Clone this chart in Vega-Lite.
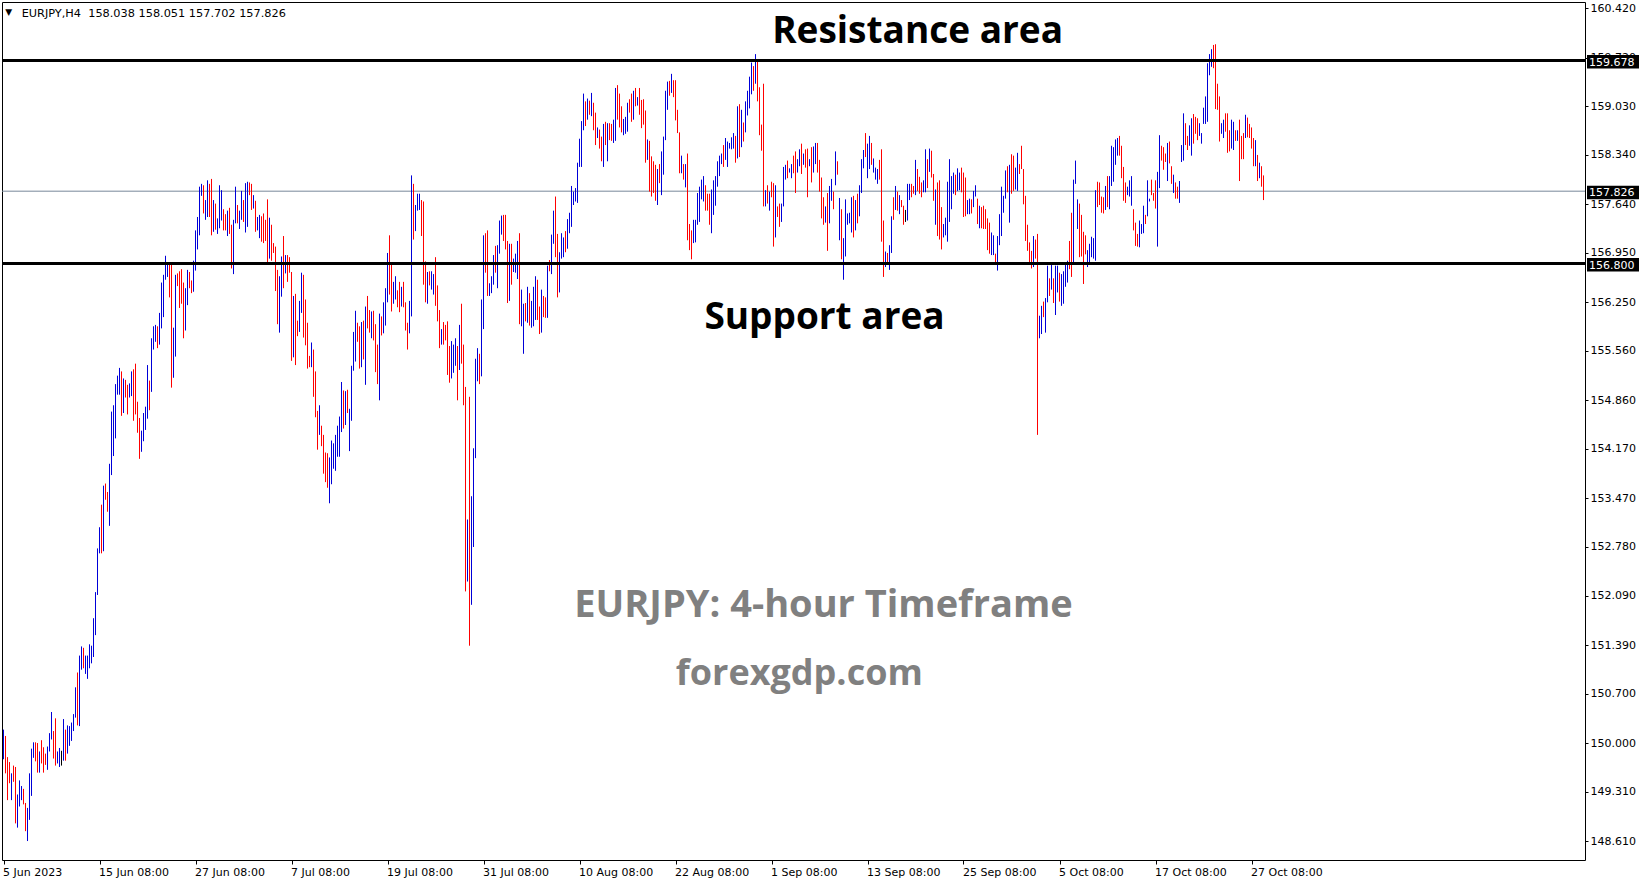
{"$schema":"https://vega.github.io/schema/vega-lite/v6.json","width":1583,"height":858,"padding":{"left":2,"top":2,"right":64,"bottom":24},"autosize":{"type":"none"},"background":"white","config":{"view":{"stroke":"black","strokeWidth":1},"font":"DejaVu Sans"},
"resolve":{"axis":{"x":"independent","y":"independent"}},
"datasets":{"bars":[
{"o":149.82,"h":150.19,"l":149.77,"c":150.15},{"o":150.06,"h":150.10,"l":149.57,"c":149.62},{"o":149.76,"h":149.80,"l":149.19,"c":149.24},{"o":149.69,"h":149.73,"l":149.43,"c":149.48},{"o":149.24,"h":149.57,"l":149.19,"c":149.53},{"o":149.64,"h":149.68,"l":149.45,"c":149.50},{"o":149.62,"h":149.66,"l":148.86,"c":148.91},{"o":148.85,"h":149.27,"l":148.80,"c":149.23},{"o":149.15,"h":149.47,"l":149.10,"c":149.43},{"o":149.24,"h":149.39,"l":149.19,"c":149.35},
{"o":149.31,"h":149.35,"l":149.13,"c":149.18},{"o":149.11,"h":149.15,"l":148.75,"c":148.80},{"o":148.66,"h":149.08,"l":148.61,"c":149.04},{"o":148.96,"h":149.57,"l":148.91,"c":149.53},{"o":149.30,"h":149.92,"l":149.25,"c":149.88},{"o":149.84,"h":150.01,"l":149.79,"c":149.97},{"o":149.97,"h":150.01,"l":149.74,"c":149.79},{"o":149.96,"h":150.00,"l":149.58,"c":149.63},{"o":149.63,"h":149.88,"l":149.58,"c":149.84},{"o":150.00,"h":150.04,"l":149.71,"c":149.76},
{"o":149.90,"h":149.94,"l":149.58,"c":149.63},{"o":149.81,"h":149.85,"l":149.69,"c":149.74},{"o":149.67,"h":149.95,"l":149.62,"c":149.91},{"o":149.93,"h":150.14,"l":149.88,"c":150.10},{"o":150.10,"h":150.44,"l":150.05,"c":150.40},{"o":150.13,"h":150.17,"l":149.78,"c":149.83},{"o":150.31,"h":150.35,"l":149.68,"c":149.73},{"o":149.76,"h":149.88,"l":149.71,"c":149.84},{"o":149.71,"h":149.93,"l":149.66,"c":149.89},{"o":149.78,"h":149.89,"l":149.68,"c":149.78},
{"o":149.80,"h":150.34,"l":149.75,"c":150.30},{"o":150.15,"h":150.19,"l":149.75,"c":149.80},{"o":149.90,"h":150.25,"l":149.85,"c":150.21},{"o":150.01,"h":150.24,"l":149.96,"c":150.20},{"o":150.08,"h":150.29,"l":150.03,"c":150.25},{"o":150.22,"h":150.41,"l":150.17,"c":150.37},{"o":150.41,"h":150.79,"l":150.36,"c":150.75},{"o":150.96,"h":151.00,"l":150.25,"c":150.30},{"o":150.29,"h":151.24,"l":150.24,"c":151.20},{"o":151.09,"h":151.37,"l":151.04,"c":151.33},
{"o":151.31,"h":151.35,"l":151.06,"c":151.11},{"o":151.03,"h":151.24,"l":150.98,"c":151.20},{"o":150.96,"h":151.24,"l":150.91,"c":151.20},{"o":151.11,"h":151.40,"l":151.06,"c":151.36},{"o":151.18,"h":151.38,"l":151.13,"c":151.34},{"o":151.27,"h":151.77,"l":151.22,"c":151.73},{"o":151.58,"h":152.14,"l":151.53,"c":152.10},{"o":152.15,"h":152.76,"l":152.10,"c":152.72},{"o":152.74,"h":153.06,"l":152.69,"c":153.02},{"o":153.34,"h":153.38,"l":152.69,"c":152.74},
{"o":152.77,"h":153.65,"l":152.72,"c":153.61},{"o":153.64,"h":153.68,"l":153.45,"c":153.50},{"o":153.52,"h":153.56,"l":153.28,"c":153.33},{"o":153.13,"h":153.96,"l":153.08,"c":153.92},{"o":153.85,"h":154.70,"l":153.80,"c":154.66},{"o":154.12,"h":154.79,"l":154.07,"c":154.75},{"o":154.37,"h":155.09,"l":154.32,"c":155.05},{"o":154.99,"h":155.21,"l":154.94,"c":155.17},{"o":154.99,"h":155.32,"l":154.94,"c":155.28},{"o":155.23,"h":155.27,"l":154.64,"c":154.69},
{"o":154.73,"h":155.17,"l":154.68,"c":155.13},{"o":155.11,"h":155.15,"l":154.90,"c":154.95},{"o":155.04,"h":155.08,"l":154.66,"c":154.71},{"o":154.95,"h":155.10,"l":154.90,"c":155.06},{"o":154.97,"h":155.27,"l":154.92,"c":155.23},{"o":155.26,"h":155.30,"l":154.57,"c":154.62},{"o":155.34,"h":155.38,"l":154.66,"c":154.71},{"o":154.80,"h":154.84,"l":154.40,"c":154.45},{"o":154.57,"h":154.61,"l":154.03,"c":154.08},{"o":154.18,"h":154.43,"l":154.13,"c":154.39},
{"o":154.33,"h":154.68,"l":154.28,"c":154.64},{"o":154.49,"h":154.77,"l":154.44,"c":154.73},{"o":154.65,"h":155.36,"l":154.60,"c":155.32},{"o":155.10,"h":155.14,"l":154.72,"c":154.77},{"o":155.03,"h":155.74,"l":154.98,"c":155.70},{"o":155.63,"h":155.91,"l":155.58,"c":155.87},{"o":155.74,"h":155.93,"l":155.69,"c":155.89},{"o":155.87,"h":155.91,"l":155.60,"c":155.65},{"o":155.70,"h":156.10,"l":155.65,"c":156.06},{"o":155.93,"h":156.53,"l":155.88,"c":156.49},
{"o":156.09,"h":156.64,"l":156.04,"c":156.60},{"o":156.62,"h":156.91,"l":156.57,"c":156.87},{"o":156.66,"h":156.81,"l":156.61,"c":156.77},{"o":156.74,"h":156.78,"l":156.32,"c":156.37},{"o":156.74,"h":156.78,"l":155.04,"c":155.09},{"o":155.23,"h":155.89,"l":155.18,"c":155.85},{"o":155.53,"h":156.64,"l":155.48,"c":156.60},{"o":156.62,"h":156.66,"l":156.48,"c":156.53},{"o":156.65,"h":156.69,"l":156.17,"c":156.22},{"o":156.68,"h":156.72,"l":156.23,"c":156.28},
{"o":156.49,"h":156.53,"l":155.74,"c":155.79},{"o":155.90,"h":156.45,"l":155.85,"c":156.41},{"o":156.26,"h":156.71,"l":156.21,"c":156.67},{"o":156.64,"h":156.68,"l":156.45,"c":156.50},{"o":156.52,"h":156.56,"l":156.38,"c":156.43},{"o":156.45,"h":156.84,"l":156.40,"c":156.80},{"o":156.75,"h":157.27,"l":156.70,"c":157.23},{"o":157.05,"h":157.46,"l":157.00,"c":157.42},{"o":157.25,"h":157.89,"l":157.20,"c":157.85},{"o":157.81,"h":157.93,"l":157.76,"c":157.89},
{"o":157.87,"h":157.91,"l":157.51,"c":157.56},{"o":157.47,"h":157.70,"l":157.42,"c":157.66},{"o":157.51,"h":157.98,"l":157.46,"c":157.94},{"o":157.89,"h":157.93,"l":157.46,"c":157.51},{"o":157.96,"h":158.00,"l":157.20,"c":157.25},{"o":157.30,"h":157.70,"l":157.25,"c":157.66},{"o":157.61,"h":157.65,"l":157.28,"c":157.33},{"o":157.27,"h":157.44,"l":157.22,"c":157.40},{"o":157.35,"h":157.91,"l":157.30,"c":157.87},{"o":157.46,"h":157.84,"l":157.41,"c":157.80},
{"o":157.53,"h":157.57,"l":157.27,"c":157.32},{"o":157.46,"h":157.50,"l":157.27,"c":157.32},{"o":157.24,"h":157.55,"l":157.19,"c":157.51},{"o":157.55,"h":157.59,"l":157.22,"c":157.27},{"o":157.31,"h":157.35,"l":156.73,"c":156.78},{"o":156.70,"h":157.42,"l":156.65,"c":157.38},{"o":157.42,"h":157.89,"l":157.37,"c":157.85},{"o":157.59,"h":157.63,"l":157.37,"c":157.42},{"o":157.34,"h":157.55,"l":157.29,"c":157.51},{"o":157.47,"h":157.83,"l":157.42,"c":157.79},
{"o":157.66,"h":157.70,"l":157.39,"c":157.44},{"o":157.29,"h":157.94,"l":157.24,"c":157.90},{"o":157.37,"h":157.96,"l":157.32,"c":157.92},{"o":157.91,"h":157.95,"l":157.77,"c":157.82},{"o":157.89,"h":157.93,"l":157.56,"c":157.61},{"o":157.63,"h":157.77,"l":157.58,"c":157.73},{"o":157.65,"h":157.69,"l":157.25,"c":157.30},{"o":157.32,"h":157.46,"l":157.27,"c":157.42},{"o":157.21,"h":157.49,"l":157.16,"c":157.45},{"o":157.43,"h":157.47,"l":157.11,"c":157.16},
{"o":157.47,"h":157.51,"l":157.09,"c":157.14},{"o":157.38,"h":157.42,"l":157.12,"c":157.17},{"o":157.67,"h":157.71,"l":156.80,"c":156.85},{"o":156.92,"h":157.45,"l":156.87,"c":157.41},{"o":157.31,"h":157.35,"l":156.84,"c":156.89},{"o":157.07,"h":157.09,"l":156.95,"c":156.97},{"o":157.00,"h":157.04,"l":156.41,"c":156.46},{"o":156.67,"h":156.71,"l":155.94,"c":155.99},{"o":155.87,"h":156.62,"l":155.82,"c":156.58},{"o":156.38,"h":156.90,"l":156.33,"c":156.86},
{"o":157.15,"h":157.19,"l":156.45,"c":156.50},{"o":156.71,"h":156.92,"l":156.66,"c":156.88},{"o":156.88,"h":156.92,"l":156.54,"c":156.59},{"o":156.85,"h":156.89,"l":156.67,"c":156.72},{"o":156.64,"h":156.68,"l":155.42,"c":155.47},{"o":155.52,"h":156.34,"l":155.47,"c":156.30},{"o":156.33,"h":156.37,"l":155.36,"c":155.41},{"o":155.95,"h":155.99,"l":155.77,"c":155.82},{"o":155.88,"h":156.27,"l":155.83,"c":156.23},{"o":156.15,"h":156.67,"l":156.10,"c":156.63},
{"o":156.60,"h":156.64,"l":155.75,"c":155.80},{"o":156.25,"h":156.29,"l":155.64,"c":155.69},{"o":155.92,"h":155.96,"l":155.31,"c":155.36},{"o":155.45,"h":155.49,"l":155.33,"c":155.38},{"o":155.38,"h":155.68,"l":155.33,"c":155.64},{"o":155.54,"h":155.58,"l":154.91,"c":154.96},{"o":155.23,"h":155.27,"l":154.62,"c":154.67},{"o":154.67,"h":154.71,"l":154.16,"c":154.21},{"o":154.42,"h":154.79,"l":154.37,"c":154.75},{"o":154.46,"h":154.50,"l":154.21,"c":154.26},
{"o":154.33,"h":154.37,"l":153.82,"c":153.87},{"o":154.08,"h":154.12,"l":153.70,"c":153.75},{"o":154.07,"h":154.11,"l":153.62,"c":153.67},{"o":153.45,"h":154.05,"l":153.40,"c":154.01},{"o":153.72,"h":154.29,"l":153.67,"c":154.25},{"o":153.94,"h":154.25,"l":153.89,"c":154.21},{"o":153.91,"h":154.37,"l":153.86,"c":154.33},{"o":154.11,"h":154.50,"l":154.06,"c":154.46},{"o":154.11,"h":154.63,"l":154.06,"c":154.59},{"o":154.46,"h":155.12,"l":154.41,"c":155.08},
{"o":154.96,"h":155.00,"l":154.46,"c":154.51},{"o":154.56,"h":154.99,"l":154.51,"c":154.95},{"o":154.97,"h":155.01,"l":154.68,"c":154.73},{"o":154.19,"h":154.74,"l":154.14,"c":154.70},{"o":154.62,"h":155.35,"l":154.57,"c":155.31},{"o":155.33,"h":155.83,"l":155.28,"c":155.79},{"o":155.46,"h":156.13,"l":155.41,"c":156.09},{"o":155.92,"h":155.96,"l":155.69,"c":155.74},{"o":155.87,"h":155.91,"l":155.31,"c":155.36},{"o":155.38,"h":155.97,"l":155.33,"c":155.93},
{"o":155.95,"h":155.99,"l":155.44,"c":155.49},{"o":155.13,"h":156.19,"l":155.08,"c":156.15},{"o":156.30,"h":156.34,"l":155.88,"c":155.93},{"o":156.10,"h":156.14,"l":155.82,"c":155.87},{"o":155.79,"h":156.12,"l":155.74,"c":156.08},{"o":156.09,"h":156.13,"l":155.71,"c":155.76},{"o":155.90,"h":155.94,"l":155.26,"c":155.31},{"o":155.61,"h":155.65,"l":155.09,"c":155.14},{"o":154.91,"h":156.09,"l":154.86,"c":156.05},{"o":156.01,"h":156.05,"l":155.78,"c":155.83},
{"o":155.86,"h":156.25,"l":155.81,"c":156.21},{"o":155.97,"h":156.45,"l":155.92,"c":156.41},{"o":156.30,"h":156.95,"l":156.25,"c":156.91},{"o":157.16,"h":157.20,"l":156.36,"c":156.41},{"o":156.77,"h":156.81,"l":156.12,"c":156.17},{"o":156.28,"h":156.54,"l":156.23,"c":156.50},{"o":156.34,"h":156.62,"l":156.29,"c":156.58},{"o":156.38,"h":156.42,"l":156.18,"c":156.23},{"o":156.50,"h":156.54,"l":156.11,"c":156.16},{"o":156.24,"h":156.47,"l":156.19,"c":156.43},
{"o":156.50,"h":156.54,"l":156.18,"c":156.23},{"o":156.21,"h":156.25,"l":155.85,"c":155.90},{"o":155.92,"h":155.96,"l":155.58,"c":155.63},{"o":155.86,"h":156.27,"l":155.81,"c":156.23},{"o":156.10,"h":158.05,"l":156.05,"c":158.01},{"o":157.89,"h":157.93,"l":157.14,"c":157.19},{"o":157.31,"h":157.63,"l":157.26,"c":157.59},{"o":157.60,"h":157.79,"l":157.55,"c":157.75},{"o":157.61,"h":157.79,"l":157.56,"c":157.75},{"o":157.66,"h":157.70,"l":157.19,"c":157.24},
{"o":157.64,"h":157.68,"l":156.50,"c":156.55},{"o":156.79,"h":156.83,"l":156.25,"c":156.30},{"o":156.28,"h":156.68,"l":156.23,"c":156.64},{"o":156.65,"h":156.69,"l":156.49,"c":156.54},{"o":156.48,"h":156.69,"l":156.43,"c":156.65},{"o":156.41,"h":156.65,"l":156.36,"c":156.61},{"o":156.85,"h":156.89,"l":156.20,"c":156.25},{"o":156.45,"h":156.49,"l":155.98,"c":156.03},{"o":156.10,"h":156.14,"l":155.60,"c":155.65},{"o":155.70,"h":155.87,"l":155.65,"c":155.83},
{"o":155.93,"h":155.97,"l":155.65,"c":155.70},{"o":155.89,"h":155.93,"l":155.71,"c":155.76},{"o":155.94,"h":155.98,"l":155.22,"c":155.27},{"o":155.59,"h":155.63,"l":155.11,"c":155.16},{"o":155.22,"h":155.70,"l":155.17,"c":155.66},{"o":155.30,"h":155.65,"l":155.25,"c":155.61},{"o":155.40,"h":155.74,"l":155.35,"c":155.70},{"o":155.59,"h":155.63,"l":154.86,"c":154.91},{"o":155.34,"h":155.93,"l":155.29,"c":155.89},{"o":156.19,"h":156.23,"l":155.38,"c":155.43},
{"o":155.61,"h":155.65,"l":154.79,"c":154.84},{"o":155.01,"h":155.05,"l":152.15,"c":152.20},{"o":152.34,"h":153.17,"l":152.29,"c":153.13},{"o":154.87,"h":154.91,"l":151.38,"c":151.43},{"o":152.01,"h":153.50,"l":151.96,"c":153.46},{"o":152.83,"h":154.18,"l":152.78,"c":154.14},{"o":154.09,"h":155.45,"l":154.04,"c":155.41},{"o":155.18,"h":155.60,"l":155.13,"c":155.56},{"o":155.48,"h":155.52,"l":155.09,"c":155.14},{"o":155.25,"h":156.29,"l":155.20,"c":156.25},
{"o":155.92,"h":157.20,"l":155.87,"c":157.16},{"o":157.19,"h":157.23,"l":156.67,"c":156.72},{"o":157.23,"h":157.27,"l":156.34,"c":156.39},{"o":156.39,"h":156.52,"l":156.34,"c":156.48},{"o":156.43,"h":156.62,"l":156.38,"c":156.58},{"o":156.55,"h":156.92,"l":156.50,"c":156.88},{"o":157.01,"h":157.05,"l":156.67,"c":156.72},{"o":156.50,"h":157.06,"l":156.45,"c":157.02},{"o":156.99,"h":157.41,"l":156.94,"c":157.37},{"o":157.26,"h":157.48,"l":157.21,"c":157.44},
{"o":157.45,"h":157.49,"l":157.12,"c":157.17},{"o":157.45,"h":157.49,"l":157.00,"c":157.05},{"o":157.08,"h":157.12,"l":156.24,"c":156.29},{"o":156.32,"h":157.08,"l":156.27,"c":157.04},{"o":157.04,"h":157.08,"l":156.50,"c":156.55},{"o":156.73,"h":156.87,"l":156.68,"c":156.83},{"o":156.72,"h":156.94,"l":156.67,"c":156.90},{"o":156.63,"h":157.12,"l":156.58,"c":157.08},{"o":157.19,"h":157.23,"l":155.94,"c":155.99},{"o":155.96,"h":156.43,"l":155.91,"c":156.39},
{"o":155.57,"h":156.23,"l":155.52,"c":156.19},{"o":156.20,"h":156.24,"l":155.98,"c":156.03},{"o":156.01,"h":156.47,"l":155.96,"c":156.43},{"o":156.34,"h":156.38,"l":155.92,"c":155.97},{"o":155.94,"h":156.27,"l":155.89,"c":156.23},{"o":155.96,"h":156.47,"l":155.91,"c":156.43},{"o":156.05,"h":156.62,"l":156.00,"c":156.58},{"o":156.53,"h":156.57,"l":156.00,"c":156.05},{"o":156.15,"h":156.19,"l":155.80,"c":155.85},{"o":155.87,"h":156.43,"l":155.82,"c":156.39},
{"o":156.30,"h":156.34,"l":156.04,"c":156.09},{"o":156.28,"h":156.32,"l":156.03,"c":156.08},{"o":156.08,"h":156.77,"l":156.03,"c":156.73},{"o":156.81,"h":156.85,"l":156.69,"c":156.74},{"o":156.70,"h":157.21,"l":156.65,"c":157.17},{"o":157.13,"h":157.55,"l":157.08,"c":157.51},{"o":157.71,"h":157.75,"l":156.89,"c":156.94},{"o":157.18,"h":157.22,"l":156.32,"c":156.37},{"o":156.44,"h":156.96,"l":156.39,"c":156.92},{"o":156.92,"h":157.23,"l":156.87,"c":157.19},
{"o":156.94,"h":157.17,"l":156.89,"c":157.13},{"o":157.22,"h":157.26,"l":156.96,"c":157.01},{"o":157.06,"h":157.43,"l":157.01,"c":157.39},{"o":157.28,"h":157.52,"l":157.23,"c":157.48},{"o":157.37,"h":157.90,"l":157.32,"c":157.86},{"o":157.68,"h":157.82,"l":157.63,"c":157.78},{"o":157.73,"h":157.87,"l":157.68,"c":157.83},{"o":157.71,"h":158.23,"l":157.66,"c":158.19},{"o":158.22,"h":158.57,"l":158.17,"c":158.53},{"o":158.22,"h":158.82,"l":158.17,"c":158.78},
{"o":158.74,"h":159.21,"l":158.69,"c":159.17},{"o":159.06,"h":159.10,"l":158.75,"c":158.80},{"o":158.89,"h":159.14,"l":158.84,"c":159.10},{"o":159.07,"h":159.11,"l":158.91,"c":158.96},{"o":158.94,"h":159.22,"l":158.89,"c":159.18},{"o":159.04,"h":159.08,"l":158.69,"c":158.74},{"o":158.90,"h":158.94,"l":158.48,"c":158.53},{"o":158.60,"h":158.73,"l":158.58,"c":158.71},{"o":158.66,"h":158.70,"l":158.43,"c":158.48},{"o":158.56,"h":158.60,"l":158.25,"c":158.30},
{"o":158.22,"h":158.78,"l":158.17,"c":158.74},{"o":158.77,"h":158.81,"l":158.48,"c":158.53},{"o":158.30,"h":158.79,"l":158.25,"c":158.75},{"o":158.75,"h":158.79,"l":158.55,"c":158.60},{"o":158.74,"h":158.78,"l":158.54,"c":158.59},{"o":158.56,"h":158.84,"l":158.51,"c":158.80},{"o":158.59,"h":159.29,"l":158.54,"c":159.25},{"o":159.29,"h":159.33,"l":158.84,"c":158.89},{"o":159.17,"h":159.21,"l":158.73,"c":158.78},{"o":158.99,"h":159.03,"l":158.66,"c":158.71},
{"o":158.67,"h":158.85,"l":158.62,"c":158.81},{"o":158.69,"h":158.88,"l":158.64,"c":158.84},{"o":158.72,"h":159.08,"l":158.67,"c":159.04},{"o":159.09,"h":159.13,"l":158.94,"c":158.99},{"o":159.17,"h":159.21,"l":158.81,"c":158.86},{"o":158.89,"h":159.25,"l":158.84,"c":159.21},{"o":159.25,"h":159.29,"l":159.03,"c":159.08},{"o":159.06,"h":159.16,"l":159.04,"c":159.14},{"o":159.25,"h":159.29,"l":158.91,"c":158.96},{"o":159.08,"h":159.12,"l":158.72,"c":158.77},
{"o":159.09,"h":159.13,"l":158.77,"c":158.82},{"o":158.93,"h":158.97,"l":158.23,"c":158.28},{"o":158.32,"h":158.56,"l":158.27,"c":158.52},{"o":158.50,"h":158.54,"l":157.82,"c":157.87},{"o":158.28,"h":158.32,"l":157.75,"c":157.80},{"o":158.21,"h":158.25,"l":157.80,"c":157.85},{"o":158.16,"h":158.20,"l":157.69,"c":157.74},{"o":157.68,"h":158.14,"l":157.63,"c":158.10},{"o":158.17,"h":158.21,"l":157.94,"c":157.99},{"o":157.82,"h":158.39,"l":157.77,"c":158.35},
{"o":158.11,"h":158.60,"l":158.06,"c":158.56},{"o":158.60,"h":159.25,"l":158.55,"c":159.21},{"o":159.03,"h":159.38,"l":158.98,"c":159.34},{"o":159.35,"h":159.39,"l":159.18,"c":159.23},{"o":159.27,"h":159.49,"l":159.22,"c":159.45},{"o":159.36,"h":159.40,"l":159.16,"c":159.21},{"o":159.36,"h":159.40,"l":158.83,"c":158.88},{"o":158.94,"h":158.98,"l":158.65,"c":158.70},{"o":158.62,"h":158.66,"l":158.08,"c":158.13},{"o":158.13,"h":158.33,"l":158.08,"c":158.29},
{"o":158.17,"h":158.21,"l":157.99,"c":158.04},{"o":157.93,"h":158.21,"l":157.88,"c":158.17},{"o":158.32,"h":158.36,"l":157.13,"c":157.18},{"o":157.32,"h":157.36,"l":156.99,"c":157.04},{"o":157.23,"h":157.27,"l":156.86,"c":156.91},{"o":157.14,"h":157.42,"l":157.09,"c":157.38},{"o":157.15,"h":157.42,"l":157.10,"c":157.38},{"o":157.40,"h":157.80,"l":157.35,"c":157.76},{"o":157.44,"h":157.89,"l":157.39,"c":157.85},{"o":157.76,"h":157.99,"l":157.71,"c":157.95},
{"o":157.73,"h":158.04,"l":157.68,"c":158.00},{"o":157.87,"h":157.91,"l":157.55,"c":157.60},{"o":157.75,"h":157.79,"l":157.55,"c":157.60},{"o":157.75,"h":157.79,"l":157.35,"c":157.40},{"o":157.28,"h":157.85,"l":157.23,"c":157.81},{"o":157.54,"h":157.98,"l":157.49,"c":157.94},{"o":157.67,"h":158.04,"l":157.62,"c":158.00},{"o":157.94,"h":158.25,"l":157.89,"c":158.21},{"o":158.09,"h":158.33,"l":158.04,"c":158.29},{"o":158.23,"h":158.36,"l":158.21,"c":158.34},
{"o":158.44,"h":158.48,"l":158.17,"c":158.22},{"o":158.32,"h":158.58,"l":158.27,"c":158.54},{"o":158.22,"h":158.53,"l":158.17,"c":158.49},{"o":158.45,"h":158.51,"l":158.43,"c":158.49},{"o":158.47,"h":158.59,"l":158.42,"c":158.55},{"o":158.48,"h":158.65,"l":158.43,"c":158.61},{"o":158.57,"h":158.61,"l":158.23,"c":158.28},{"o":158.34,"h":159.03,"l":158.29,"c":158.99},{"o":159.02,"h":159.06,"l":158.31,"c":158.36},{"o":158.50,"h":158.98,"l":158.45,"c":158.94},
{"o":158.76,"h":158.80,"l":158.53,"c":158.58},{"o":158.71,"h":159.10,"l":158.66,"c":159.06},{"o":158.95,"h":159.25,"l":158.90,"c":159.21},{"o":159.05,"h":159.45,"l":159.00,"c":159.41},{"o":159.25,"h":159.65,"l":159.20,"c":159.61},{"o":159.56,"h":159.60,"l":159.25,"c":159.30},{"o":159.40,"h":159.77,"l":159.35,"c":159.73},{"o":159.66,"h":159.70,"l":159.10,"c":159.15},{"o":159.26,"h":159.30,"l":158.62,"c":158.67},{"o":158.73,"h":158.77,"l":158.40,"c":158.45},
{"o":159.31,"h":159.35,"l":157.61,"c":157.66},{"o":157.66,"h":157.84,"l":157.61,"c":157.80},{"o":157.87,"h":157.91,"l":157.65,"c":157.70},{"o":157.60,"h":157.82,"l":157.55,"c":157.78},{"o":157.92,"h":157.96,"l":157.74,"c":157.79},{"o":157.90,"h":157.94,"l":157.04,"c":157.09},{"o":157.22,"h":157.91,"l":157.17,"c":157.87},{"o":157.59,"h":157.61,"l":157.46,"c":157.48},{"o":157.61,"h":157.65,"l":157.32,"c":157.37},{"o":157.44,"h":157.65,"l":157.39,"c":157.61},
{"o":157.66,"h":158.17,"l":157.61,"c":158.13},{"o":158.04,"h":158.20,"l":157.99,"c":158.16},{"o":158.22,"h":158.26,"l":158.01,"c":158.06},{"o":158.10,"h":158.15,"l":158.09,"c":158.14},{"o":158.06,"h":158.21,"l":158.01,"c":158.17},{"o":158.29,"h":158.33,"l":158.08,"c":158.13},{"o":158.35,"h":158.39,"l":157.80,"c":157.85},{"o":158.14,"h":158.28,"l":158.09,"c":158.24},{"o":158.23,"h":158.42,"l":158.18,"c":158.38},{"o":158.46,"h":158.50,"l":158.07,"c":158.12},
{"o":158.25,"h":158.36,"l":158.20,"c":158.32},{"o":158.38,"h":158.42,"l":158.16,"c":158.21},{"o":158.39,"h":158.43,"l":157.74,"c":157.79},{"o":158.20,"h":158.28,"l":158.18,"c":158.26},{"o":158.41,"h":158.45,"l":157.95,"c":158.00},{"o":158.14,"h":158.46,"l":158.09,"c":158.42},{"o":158.26,"h":158.51,"l":158.21,"c":158.47},{"o":158.47,"h":158.51,"l":158.09,"c":158.14},{"o":158.23,"h":158.27,"l":157.82,"c":157.87},{"o":157.98,"h":158.02,"l":157.44,"c":157.49},
{"o":157.70,"h":157.74,"l":157.35,"c":157.40},{"o":157.43,"h":157.61,"l":157.38,"c":157.57},{"o":157.76,"h":157.80,"l":156.98,"c":157.03},{"o":157.42,"h":157.90,"l":157.37,"c":157.86},{"o":157.74,"h":158.00,"l":157.69,"c":157.96},{"o":157.78,"h":157.82,"l":157.57,"c":157.62},{"o":157.96,"h":158.39,"l":157.91,"c":158.35},{"o":158.21,"h":158.25,"l":158.06,"c":158.11},{"o":157.18,"h":157.73,"l":157.13,"c":157.69},{"o":157.53,"h":157.57,"l":156.86,"c":156.91},
{"o":156.62,"h":157.16,"l":156.57,"c":157.12},{"o":156.95,"h":157.71,"l":156.90,"c":157.67},{"o":157.40,"h":157.51,"l":157.35,"c":157.47},{"o":157.42,"h":157.52,"l":157.37,"c":157.48},{"o":157.29,"h":157.74,"l":157.24,"c":157.70},{"o":157.72,"h":157.76,"l":157.17,"c":157.22},{"o":157.32,"h":157.70,"l":157.27,"c":157.66},{"o":157.75,"h":157.79,"l":157.37,"c":157.42},{"o":157.52,"h":157.91,"l":157.47,"c":157.87},{"o":157.85,"h":158.28,"l":157.80,"c":158.24},
{"o":158.20,"h":158.41,"l":158.15,"c":158.37},{"o":158.61,"h":158.65,"l":158.31,"c":158.36},{"o":158.06,"h":158.50,"l":158.01,"c":158.46},{"o":158.19,"h":158.61,"l":158.14,"c":158.57},{"o":158.47,"h":158.51,"l":158.20,"c":158.25},{"o":158.14,"h":158.29,"l":158.09,"c":158.25},{"o":158.04,"h":158.16,"l":157.99,"c":158.12},{"o":157.98,"h":158.14,"l":157.93,"c":158.10},{"o":158.23,"h":158.27,"l":157.99,"c":158.04},{"o":158.38,"h":158.42,"l":157.11,"c":157.16},
{"o":157.37,"h":157.41,"l":156.61,"c":156.66},{"o":156.80,"h":156.97,"l":156.75,"c":156.93},{"o":156.91,"h":156.95,"l":156.79,"c":156.84},{"o":156.76,"h":157.06,"l":156.71,"c":157.02},{"o":157.00,"h":157.47,"l":156.95,"c":157.43},{"o":157.70,"h":157.74,"l":157.42,"c":157.47},{"o":157.61,"h":157.90,"l":157.56,"c":157.86},{"o":157.78,"h":157.82,"l":157.55,"c":157.60},{"o":157.55,"h":157.77,"l":157.50,"c":157.73},{"o":157.68,"h":157.70,"l":157.60,"c":157.62},
{"o":157.58,"h":157.62,"l":157.35,"c":157.40},{"o":157.47,"h":157.56,"l":157.39,"c":157.47},{"o":157.46,"h":157.93,"l":157.41,"c":157.89},{"o":157.75,"h":157.93,"l":157.70,"c":157.89},{"o":157.89,"h":157.93,"l":157.74,"c":157.79},{"o":157.88,"h":157.90,"l":157.79,"c":157.81},{"o":157.82,"h":158.27,"l":157.77,"c":158.23},{"o":158.10,"h":158.14,"l":157.83,"c":157.88},{"o":157.99,"h":158.03,"l":157.79,"c":157.84},{"o":157.91,"h":157.95,"l":157.74,"c":157.79},
{"o":157.86,"h":157.98,"l":157.81,"c":157.94},{"o":157.86,"h":158.42,"l":157.81,"c":158.38},{"o":158.24,"h":158.28,"l":157.87,"c":157.92},{"o":158.15,"h":158.43,"l":158.10,"c":158.39},{"o":158.36,"h":158.40,"l":158.02,"c":158.07},{"o":158.03,"h":158.07,"l":157.69,"c":157.74},{"o":157.40,"h":157.85,"l":157.35,"c":157.81},{"o":157.91,"h":157.95,"l":157.19,"c":157.24},{"o":157.94,"h":157.98,"l":157.14,"c":157.19},{"o":157.56,"h":157.60,"l":157.00,"c":157.05},
{"o":157.22,"h":157.36,"l":157.17,"c":157.32},{"o":157.25,"h":157.45,"l":157.20,"c":157.41},{"o":157.16,"h":157.96,"l":157.11,"c":157.92},{"o":157.44,"h":158.28,"l":157.39,"c":158.24},{"o":157.62,"h":158.04,"l":157.57,"c":158.00},{"o":157.84,"h":158.09,"l":157.79,"c":158.05},{"o":158.02,"h":158.06,"l":157.77,"c":157.82},{"o":157.88,"h":158.15,"l":157.83,"c":158.11},{"o":157.89,"h":158.09,"l":157.84,"c":158.05},{"o":158.12,"h":158.16,"l":157.81,"c":157.86},
{"o":158.05,"h":158.09,"l":157.46,"c":157.51},{"o":157.98,"h":158.02,"l":157.47,"c":157.52},{"o":157.55,"h":157.70,"l":157.50,"c":157.66},{"o":157.55,"h":157.72,"l":157.50,"c":157.68},{"o":157.67,"h":157.71,"l":157.51,"c":157.56},{"o":157.65,"h":157.83,"l":157.60,"c":157.79},{"o":157.80,"h":157.91,"l":157.75,"c":157.87},{"o":157.68,"h":157.72,"l":157.36,"c":157.41},{"o":157.35,"h":157.62,"l":157.30,"c":157.58},{"o":157.56,"h":157.60,"l":157.30,"c":157.35},
{"o":157.58,"h":157.62,"l":157.29,"c":157.34},{"o":157.53,"h":157.57,"l":157.29,"c":157.34},{"o":157.40,"h":157.44,"l":156.99,"c":157.04},{"o":157.34,"h":157.38,"l":156.94,"c":156.99},{"o":156.97,"h":157.24,"l":156.92,"c":157.20},{"o":156.97,"h":157.20,"l":156.92,"c":157.16},{"o":156.92,"h":156.94,"l":156.81,"c":156.83},{"o":156.75,"h":157.19,"l":156.70,"c":157.15},{"o":157.11,"h":157.50,"l":157.06,"c":157.46},{"o":157.24,"h":157.89,"l":157.19,"c":157.85},
{"o":157.57,"h":157.76,"l":157.52,"c":157.72},{"o":157.77,"h":158.12,"l":157.72,"c":158.08},{"o":158.14,"h":158.18,"l":157.81,"c":157.86},{"o":157.43,"h":158.20,"l":157.38,"c":158.16},{"o":158.31,"h":158.35,"l":157.79,"c":157.84},{"o":158.29,"h":158.33,"l":157.83,"c":157.88},{"o":157.90,"h":158.16,"l":157.85,"c":158.12},{"o":157.88,"h":158.37,"l":157.83,"c":158.33},{"o":158.19,"h":158.21,"l":158.07,"c":158.09},{"o":158.43,"h":158.47,"l":158.14,"c":158.19},
{"o":158.10,"h":158.14,"l":157.64,"c":157.69},{"o":157.72,"h":157.76,"l":157.12,"c":157.17},{"o":157.31,"h":157.35,"l":156.98,"c":157.03},{"o":157.06,"h":157.10,"l":156.81,"c":156.86},{"o":156.94,"h":156.98,"l":156.73,"c":156.78},{"o":156.80,"h":157.19,"l":156.75,"c":157.15},{"o":157.10,"h":157.14,"l":156.87,"c":156.92},{"o":157.18,"h":157.22,"l":154.37,"c":155.80},{"o":155.79,"h":156.06,"l":155.74,"c":156.02},{"o":155.85,"h":156.20,"l":155.80,"c":156.16},
{"o":156.22,"h":156.26,"l":156.04,"c":156.09},{"o":155.87,"h":156.31,"l":155.82,"c":156.27},{"o":156.30,"h":156.77,"l":156.25,"c":156.73},{"o":156.55,"h":156.59,"l":156.34,"c":156.39},{"o":156.48,"h":156.78,"l":156.43,"c":156.74},{"o":156.55,"h":156.59,"l":156.24,"c":156.29},{"o":156.12,"h":156.77,"l":156.07,"c":156.73},{"o":156.44,"h":156.77,"l":156.39,"c":156.73},{"o":156.63,"h":156.67,"l":156.26,"c":156.31},{"o":156.25,"h":156.65,"l":156.20,"c":156.61},
{"o":156.28,"h":156.69,"l":156.23,"c":156.65},{"o":156.52,"h":156.79,"l":156.47,"c":156.75},{"o":156.58,"h":156.84,"l":156.53,"c":156.80},{"o":157.08,"h":157.12,"l":156.72,"c":156.77},{"o":157.48,"h":157.52,"l":156.61,"c":156.66},{"o":156.84,"h":157.99,"l":156.79,"c":157.95},{"o":157.98,"h":158.26,"l":157.93,"c":158.22},{"o":157.34,"h":157.71,"l":157.29,"c":157.67},{"o":157.61,"h":157.65,"l":156.89,"c":156.94},{"o":157.45,"h":157.49,"l":156.90,"c":156.95},
{"o":157.21,"h":157.25,"l":156.51,"c":156.56},{"o":157.16,"h":157.20,"l":156.93,"c":156.98},{"o":156.80,"h":156.99,"l":156.75,"c":156.95},{"o":156.83,"h":157.08,"l":156.78,"c":157.04},{"o":156.94,"h":157.18,"l":156.89,"c":157.14},{"o":156.92,"h":157.16,"l":156.87,"c":157.12},{"o":156.89,"h":157.84,"l":156.84,"c":157.80},{"o":157.92,"h":157.96,"l":157.60,"c":157.65},{"o":157.91,"h":157.95,"l":157.63,"c":157.68},{"o":157.71,"h":157.75,"l":157.52,"c":157.57},
{"o":157.70,"h":157.74,"l":157.51,"c":157.56},{"o":157.61,"h":157.90,"l":157.56,"c":157.86},{"o":158.00,"h":158.04,"l":157.60,"c":157.65},{"o":157.62,"h":158.04,"l":157.57,"c":158.00},{"o":157.95,"h":158.47,"l":157.90,"c":158.43},{"o":158.01,"h":158.45,"l":157.96,"c":158.41},{"o":158.25,"h":158.56,"l":158.20,"c":158.52},{"o":158.38,"h":158.58,"l":158.33,"c":158.54},{"o":158.57,"h":158.61,"l":158.33,"c":158.38},{"o":158.43,"h":158.47,"l":158.01,"c":158.06},
{"o":158.13,"h":158.17,"l":157.69,"c":157.74},{"o":157.91,"h":157.95,"l":157.66,"c":157.71},{"o":157.79,"h":157.89,"l":157.77,"c":157.87},{"o":157.80,"h":157.98,"l":157.75,"c":157.94},{"o":157.67,"h":158.04,"l":157.62,"c":158.00},{"o":157.53,"h":157.57,"l":157.27,"c":157.32},{"o":157.34,"h":157.38,"l":157.05,"c":157.10},{"o":157.18,"h":157.22,"l":157.04,"c":157.09},{"o":157.08,"h":157.41,"l":157.03,"c":157.37},{"o":157.24,"h":157.36,"l":157.22,"c":157.34},
{"o":157.28,"h":157.62,"l":157.23,"c":157.58},{"o":157.47,"h":157.49,"l":157.36,"c":157.38},{"o":157.52,"h":157.98,"l":157.47,"c":157.94},{"o":157.69,"h":157.72,"l":157.68,"c":157.71},{"o":157.95,"h":157.99,"l":157.77,"c":157.82},{"o":157.78,"h":157.80,"l":157.69,"c":157.71},{"o":157.94,"h":157.98,"l":157.58,"c":157.63},{"o":157.09,"h":158.10,"l":157.04,"c":158.06},{"o":157.92,"h":158.62,"l":157.87,"c":158.58},{"o":158.43,"h":158.47,"l":158.26,"c":158.31},
{"o":158.41,"h":158.45,"l":158.13,"c":158.18},{"o":158.34,"h":158.36,"l":158.24,"c":158.26},{"o":158.02,"h":158.51,"l":157.97,"c":158.47},{"o":158.49,"h":158.53,"l":158.22,"c":158.27},{"o":158.14,"h":158.18,"l":157.93,"c":157.98},{"o":157.85,"h":158.06,"l":157.80,"c":158.02},{"o":157.91,"h":157.95,"l":157.72,"c":157.77},{"o":157.85,"h":157.89,"l":157.72,"c":157.77},{"o":157.71,"h":157.97,"l":157.66,"c":157.93},{"o":158.29,"h":158.48,"l":158.24,"c":158.44},
{"o":158.31,"h":158.93,"l":158.26,"c":158.89},{"o":158.75,"h":158.79,"l":158.48,"c":158.53},{"o":158.57,"h":158.61,"l":158.41,"c":158.46},{"o":158.52,"h":158.76,"l":158.47,"c":158.72},{"o":158.38,"h":158.86,"l":158.33,"c":158.82},{"o":158.88,"h":158.92,"l":158.50,"c":158.55},{"o":158.84,"h":158.88,"l":158.64,"c":158.69},{"o":158.82,"h":158.86,"l":158.55,"c":158.60},{"o":158.66,"h":158.79,"l":158.61,"c":158.75},{"o":158.55,"h":158.65,"l":158.50,"c":158.61},
{"o":158.83,"h":159.01,"l":158.78,"c":158.97},{"o":158.83,"h":159.17,"l":158.78,"c":159.13},{"o":158.86,"h":159.64,"l":158.81,"c":159.60},{"o":159.52,"h":159.77,"l":159.47,"c":159.73},{"o":159.64,"h":159.84,"l":159.59,"c":159.80},{"o":159.86,"h":159.90,"l":159.57,"c":159.62},{"o":159.87,"h":159.91,"l":158.99,"c":159.04},{"o":159.31,"h":159.35,"l":158.98,"c":159.03},{"o":159.13,"h":159.17,"l":158.53,"c":158.58},{"o":158.67,"h":158.79,"l":158.64,"c":158.76},
{"o":158.63,"h":158.84,"l":158.58,"c":158.80},{"o":158.89,"h":158.93,"l":158.67,"c":158.72},{"o":158.89,"h":158.93,"l":158.37,"c":158.42},{"o":158.65,"h":158.69,"l":158.39,"c":158.44},{"o":158.48,"h":158.84,"l":158.43,"c":158.80},{"o":158.46,"h":158.81,"l":158.41,"c":158.77},{"o":158.66,"h":158.69,"l":158.54,"c":158.57},{"o":158.57,"h":158.69,"l":158.54,"c":158.66},{"o":158.80,"h":158.84,"l":157.97,"c":158.02},{"o":158.57,"h":158.61,"l":158.28,"c":158.33},
{"o":158.61,"h":158.65,"l":158.28,"c":158.33},{"o":158.63,"h":158.91,"l":158.58,"c":158.87},{"o":158.83,"h":158.87,"l":158.59,"c":158.64},{"o":158.74,"h":158.78,"l":158.58,"c":158.63},{"o":158.69,"h":158.73,"l":158.43,"c":158.48},{"o":158.54,"h":158.58,"l":158.18,"c":158.23},{"o":158.23,"h":158.55,"l":158.18,"c":158.51},{"o":158.30,"h":158.34,"l":157.97,"c":158.02},{"o":158.06,"h":158.23,"l":158.01,"c":158.19},{"o":158.14,"h":158.18,"l":157.89,"c":157.94},
{"o":158.04,"h":158.05,"l":157.70,"c":157.83}
]},
"layer":[
{"data":{"values":[{"p":157.826}]},"mark":{"type":"rule","color":"#778899","strokeWidth":1},"encoding":{"y":{"field":"p","type":"quantitative","scale":{"domain":[148.341,160.509],"nice":false,"zero":false},"axis":null}}},
{"data":{"name":"bars"},"transform":[{"window":[{"op":"row_number","as":"i"}]}],"mark":{"type":"rule","strokeWidth":1},
"encoding":{
"x":{"field":"i","type":"quantitative","scale":{"domain":[0.25,791.75],"nice":false,"zero":false},"axis":{"orient":"bottom","values":[1,49,97,145,193,241,289,337,385,433,481,529,577,625],"labelExpr":"['5 Jun 2023','15 Jun 08:00','27 Jun 08:00','7 Jul 08:00','19 Jul 08:00','31 Jul 08:00','10 Aug 08:00','22 Aug 08:00','1 Sep 08:00','13 Sep 08:00','25 Sep 08:00','5 Oct 08:00','17 Oct 08:00','27 Oct 08:00'][round((datum.value-1)/48)]","domain":false,"grid":false,"ticks":true,"tickSize":4,"tickColor":"black","tickWidth":1,"labelColor":"black","labelFont":"DejaVu Sans","labelFontSize":11,"labelAlign":"left","labelBaseline":"top","labelPadding":2,"labelOffset":-1,"labelOverlap":false,"labelFlush":false,"labelBound":false,"title":null}},
"y":{"field":"l","type":"quantitative","scale":{"domain":[148.341,160.509],"nice":false,"zero":false},"axis":{"orient":"right","values":[160.42,159.72,159.03,158.34,157.64,156.95,156.25,155.56,154.86,154.17,153.47,152.78,152.09,151.39,150.7,150.0,149.31,148.61],"format":".3f","domain":false,"grid":false,"ticks":true,"tickSize":3,"tickColor":"black","tickWidth":1,"labelColor":"black","labelFont":"DejaVu Sans","labelFontSize":11,"labelPadding":2,"labelBaseline":"middle","labelOverlap":false,"labelFlush":false,"labelBound":false,"title":null}},
"y2":{"field":"h"},
"color":{"condition":[{"test":"datum.c > datum.o","value":"#0000D8"},{"test":"datum.c < datum.o","value":"#FF0000"}],"value":"#000000"}}},
{"data":{"values":[{"p":159.678},{"p":156.8}]},"mark":{"type":"rule","color":"black","strokeWidth":3},"encoding":{"y":{"field":"p","type":"quantitative","scale":{"domain":[148.341,160.509],"nice":false,"zero":false},"axis":null}}},
{"data":{"values":[{"t":"Resistance area","i":458.05,"p":159.926},{"t":"Support area","i":411.5,"p":155.871}]},"mark":{"type":"text","font":"Open Sans","fontWeight":"bold","fontSize":37,"color":"black","align":"center","baseline":"alphabetic"},"encoding":{"x":{"field":"i","type":"quantitative","scale":{"domain":[0.25,791.75],"nice":false,"zero":false},"axis":null},"y":{"field":"p","type":"quantitative","scale":{"domain":[148.341,160.509],"nice":false,"zero":false},"axis":null},"text":{"field":"t"}}},
{"data":{"values":[{"t":"EURJPY: 4-hour Timeframe","i":411.0,"p":151.787}]},"mark":{"type":"text","font":"Open Sans","fontWeight":"bold","fontSize":38,"color":"#808080","align":"center","baseline":"alphabetic"},"encoding":{"x":{"field":"i","type":"quantitative","scale":{"domain":[0.25,791.75],"nice":false,"zero":false},"axis":null},"y":{"field":"p","type":"quantitative","scale":{"domain":[148.341,160.509],"nice":false,"zero":false},"axis":null},"text":{"field":"t"}}},
{"data":{"values":[{"t":"forexgdp.com","i":398.9,"p":150.818}]},"mark":{"type":"text","font":"Open Sans","fontWeight":"bold","fontSize":36,"color":"#808080","align":"center","baseline":"alphabetic"},"encoding":{"x":{"field":"i","type":"quantitative","scale":{"domain":[0.25,791.75],"nice":false,"zero":false},"axis":null},"y":{"field":"p","type":"quantitative","scale":{"domain":[148.341,160.509],"nice":false,"zero":false},"axis":null},"text":{"field":"t"}}},
{"data":{"values":[{"t":"EURJPY,H4\u00a0 158.038 158.051 157.702 157.826","i":10.1,"p":160.296}]},"mark":{"type":"text","font":"DejaVu Sans","fontSize":11.3,"color":"black","align":"left","baseline":"alphabetic"},"encoding":{"x":{"field":"i","type":"quantitative","scale":{"domain":[0.25,791.75],"nice":false,"zero":false},"axis":null},"y":{"field":"p","type":"quantitative","scale":{"domain":[148.341,160.509],"nice":false,"zero":false},"axis":null},"text":{"field":"t"}}},
{"data":{"values":[{"t":"▼","i":3.6,"p":160.33}]},"mark":{"type":"text","font":"DejaVu Sans","fontSize":9,"color":"black","align":"center","baseline":"alphabetic"},"encoding":{"x":{"field":"i","type":"quantitative","scale":{"domain":[0.25,791.75],"nice":false,"zero":false},"axis":null},"y":{"field":"p","type":"quantitative","scale":{"domain":[148.341,160.509],"nice":false,"zero":false},"axis":null},"text":{"field":"t"}}},
{"data":{"values":[{"p":159.678},{"p":157.826},{"p":156.8}]},"mark":{"type":"rect","color":"black","xOffset":2,"x2Offset":54,"yOffset":-5.5,"y2Offset":8},"encoding":{"x":{"value":"width"},"x2":{"value":"width"},"y":{"field":"p","type":"quantitative","scale":{"domain":[148.341,160.509],"nice":false,"zero":false},"axis":null},"y2":{"field":"p"}}},
{"data":{"values":[{"p":159.678},{"p":157.826},{"p":156.8}]},"mark":{"type":"text","font":"DejaVu Sans","fontSize":11,"color":"white","align":"left","baseline":"middle","dx":4,"dy":2},"encoding":{"x":{"value":"width"},"y":{"field":"p","type":"quantitative","scale":{"domain":[148.341,160.509],"nice":false,"zero":false},"axis":null},"text":{"field":"p","type":"quantitative","format":".3f"}}}
]}
